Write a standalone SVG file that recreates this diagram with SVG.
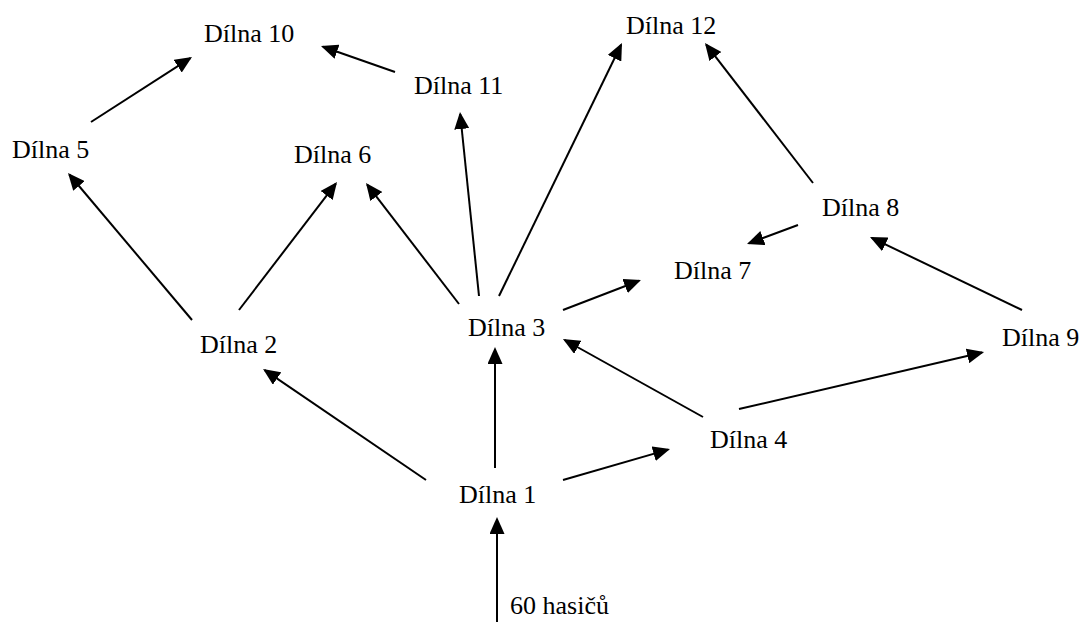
<svg xmlns="http://www.w3.org/2000/svg" width="1082" height="622" viewBox="0 0 1082 622">
<style>
.lbl{font-family:"Liberation Serif","Times New Roman",serif;font-size:26px;fill:#000}
.c{fill:none;stroke:#000;stroke-width:2;marker-end:url(#ah)}
</style>
<defs>
<marker id="ah" markerUnits="userSpaceOnUse" markerWidth="17" markerHeight="15" refX="15" refY="7.5" orient="auto">
<path d="M0,0 L17,7.5 L0,15 z" fill="#000"/>
</marker>
</defs>
<rect width="1082" height="622" fill="#fff"/>
<g id="connectors">
<path class="c" d="M497,622 L497,519"/>
<path class="c" d="M495,468 L495,349"/>
<path class="c" d="M426,480 L264.7,370.1"/>
<path class="c" d="M563,480 L668.1,449.6"/>
<path class="c" d="M192,320 L69.3,174.5"/>
<path class="c" d="M239,310 L335.8,183.6"/>
<path class="c" d="M91,122 L190.3,58.1"/>
<path class="c" d="M395,72 L322.9,46.7"/>
<path class="c" d="M459,304 L367.2,184.6"/>
<path class="c" d="M479,296 L460.2,114"/>
<path class="c" d="M499,296 L621.1,44.8"/>
<path class="c" d="M563,310 L639.1,280.7"/>
<path class="c" d="M703,417 L564.7,340"/>
<path class="c" d="M739,409 L982.1,352.5"/>
<path class="c" d="M813,183 L706.2,44.6"/>
<path class="c" d="M798,225 L748.9,243.3"/>
<path class="c" d="M1022,310 L871.8,237.9"/>
</g>
<g id="n1"><text class="lbl" x="459" y="503">Dílna 1</text></g>
<g id="n2"><text class="lbl" x="200" y="353">Dílna 2</text></g>
<g id="n3"><text class="lbl" x="468" y="336">Dílna 3</text></g>
<g id="n4"><text class="lbl" x="710" y="448">Dílna 4</text></g>
<g id="n5"><text class="lbl" x="12" y="158">Dílna 5</text></g>
<g id="n6"><text class="lbl" x="294" y="163">Dílna 6</text></g>
<g id="n7"><text class="lbl" x="674" y="279">Dílna 7</text></g>
<g id="n8"><text class="lbl" x="822" y="216">Dílna 8</text></g>
<g id="n9"><text class="lbl" x="1002" y="346">Dílna 9</text></g>
<g id="n10"><text class="lbl" x="204" y="42">Dílna 10</text></g>
<g id="n11"><text class="lbl" x="414" y="94">Dílna 11</text></g>
<g id="n12"><text class="lbl" x="626" y="34">Dílna 12</text></g>
<g id="src"><text class="lbl" x="510" y="614">60 hasičů</text></g>
</svg>
